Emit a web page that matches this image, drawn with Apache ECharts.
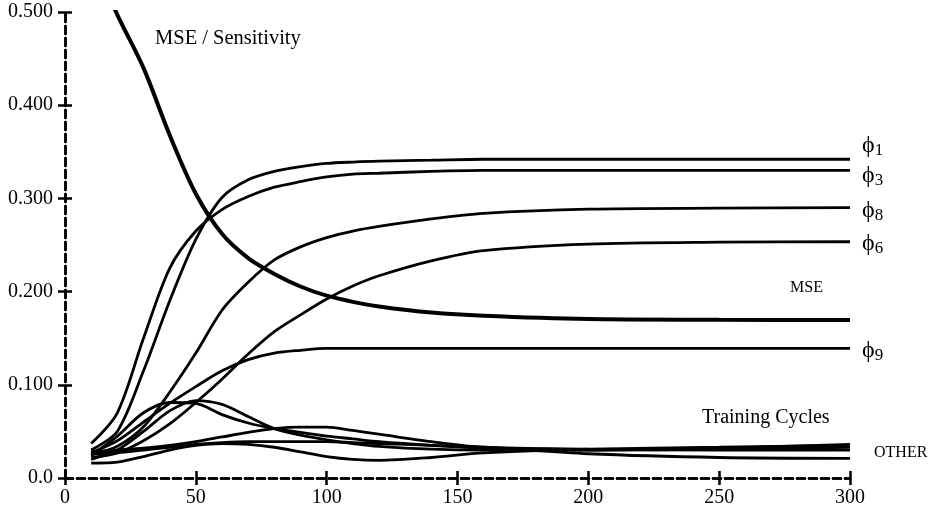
<!DOCTYPE html>
<html>
<head>
<meta charset="utf-8">
<script src="https://cdn.jsdelivr.net/npm/echarts@6/dist/echarts.min.js"></script>
<style>
  html, body { margin: 0; padding: 0; background: #fff; }
  #chart { width: 941px; height: 514px; }
</style>
</head>
<body>
<div id="chart"></div>
<script>
// Training cycles at which each curve was sampled
const cycles = [10, 20, 30, 40, 50, 60, 70, 80, 90, 100, 110, 120, 140, 160, 200, 250, 300];

// Mean squared error
const mse  = [0.560, 0.497, 0.440, 0.368, 0.305, 0.262, 0.236, 0.219, 0.2055, 0.1956, 0.189, 0.184, 0.1775, 0.174, 0.1705, 0.1698, 0.1695];

// Input sensitivities
const phi1 = [0.030, 0.050, 0.115, 0.190, 0.256, 0.301, 0.320, 0.329, 0.334, 0.3375, 0.339, 0.340, 0.341, 0.342, 0.342, 0.342, 0.342];
const phi3 = [0.037, 0.070, 0.150, 0.225, 0.265, 0.288, 0.302, 0.312, 0.318, 0.323, 0.326, 0.327, 0.329, 0.330, 0.330, 0.330, 0.330];
const phi8 = [0.025, 0.034, 0.055, 0.092, 0.134, 0.180, 0.210, 0.234, 0.248, 0.258, 0.265, 0.270, 0.278, 0.284, 0.2885, 0.2895, 0.290];
const phi6 = [0.022, 0.027, 0.040, 0.058, 0.081, 0.106, 0.133, 0.157, 0.175, 0.192, 0.206, 0.217, 0.233, 0.244, 0.251, 0.253, 0.2535];
const phi9 = [0.027, 0.040, 0.060, 0.080, 0.098, 0.115, 0.127, 0.134, 0.137, 0.139, 0.139, 0.139, 0.139, 0.139, 0.139, 0.139, 0.139];

// Remaining ("other") inputs
const otherA = [0.024, 0.045, 0.070, 0.081, 0.080, 0.068, 0.059, 0.053, 0.049, 0.045, 0.042, 0.039, 0.035, 0.032, 0.030, 0.031, 0.033];
const otherB = [0.020, 0.030, 0.050, 0.072, 0.083, 0.079, 0.066, 0.053, 0.046, 0.041, 0.037, 0.034, 0.031, 0.030, 0.030, 0.032, 0.036];
const otherC = [0.028, 0.030, 0.032, 0.035, 0.039, 0.044, 0.049, 0.053, 0.0545, 0.0545, 0.051, 0.047, 0.039, 0.033, 0.031, 0.030, 0.030];
const otherD = [0.016, 0.017, 0.023, 0.030, 0.035, 0.037, 0.036, 0.033, 0.028, 0.023, 0.020, 0.019, 0.022, 0.027, 0.031, 0.033, 0.035];
const otherE = [0.026, 0.027, 0.030, 0.033, 0.036, 0.038, 0.039, 0.039, 0.039, 0.039, 0.038, 0.037, 0.035, 0.033, 0.026, 0.022, 0.021];

// Axis tick labels
const xTickLabels = ['0', '50', '100', '150', '200', '250', '300'];
const yTickLabels = ['0.0', '0.100', '0.200', '0.300', '0.400', '0.500'];

const SERIF = '"Liberation Serif", "DejaVu Serif", serif';
const INK = '#000';

const pairs = (ys) => cycles.map((x, i) => [x, ys[i]]);

function phiLabel(sub, dy) {
  return {
    show: true,
    distance: 0,
    offset: [12, dy],
    formatter: '{p|\u03D5}{s|' + sub + '}',
    rich: {
      p: { fontFamily: SERIF, fontSize: 24, color: INK },
      s: { fontFamily: SERIF, fontSize: 17, color: INK, padding: [10, 0, 0, 0] }
    }
  };
}

function curve(name, ys, width, endLabel) {
  const s = {
    name: name,
    type: 'line',
    data: pairs(ys),
    xAxisIndex: 0,
    yAxisIndex: 0,
    showSymbol: false,
    smooth: 0.3,
    lineStyle: { color: INK, width: width },
    silent: true,
    animation: false
  };
  if (endLabel) s.endLabel = endLabel;
  return s;
}

const dashed = { show: true, lineStyle: { color: INK, width: 2.5, type: [8, 4] } };
const tick = (inside) => ({ show: true, inside: inside, length: 7, lineStyle: { color: INK, width: 2.5 } });

function xAx(position, inside, labels) {
  return {
    type: 'value', position: position, min: 0, max: 300, interval: 50,
    axisLine: inside ? { show: false } : dashed,
    axisTick: tick(inside),
    splitLine: { show: false },
    axisLabel: labels ? {
      show: true, fontFamily: SERIF, fontSize: 20, color: INK, margin: 10,
      formatter: (v) => xTickLabels[Math.round(v / 50)]
    } : { show: false }
  };
}

function yAx(position, inside, labels) {
  return {
    type: 'value', position: position, min: 0, max: 0.5, interval: 0.1,
    axisLine: inside ? { show: false } : dashed,
    axisTick: tick(inside),
    splitLine: { show: false },
    axisLabel: labels ? {
      show: true, fontFamily: SERIF, fontSize: 20, color: INK, margin: 12,
      formatter: (v) => yTickLabels[Math.round(v * 10)]
    } : { show: false }
  };
}

const chart = echarts.init(document.getElementById('chart'), null, { renderer: 'canvas' });

chart.setOption({
  backgroundColor: '#fff',
  animation: false,
  grid: { left: 65, right: 91, top: 12, bottom: 36, containLabel: false },
  xAxis: [
    xAx('bottom', false, true),
    xAx('bottom', true, false),
    xAx('top', false, false),
    xAx('top', true, false)
  ],
  yAxis: [
    yAx('left', false, true),
    yAx('left', true, false),
    yAx('right', false, false),
    yAx('right', true, false)
  ],
  graphic: [
    { type: 'text', left: 155, top: 28, style: { text: 'MSE / Sensitivity', font: '20.5px ' + SERIF, fill: INK } },
    { type: 'text', left: 702, top: 408, style: { text: 'Training Cycles', font: '20px ' + SERIF, fill: INK } },
    { type: 'text', left: 790, top: 280, style: { text: 'MSE', font: '16px ' + SERIF, fill: INK } },
    { type: 'text', left: 874, top: 445, style: { text: 'OTHER', font: '16px ' + SERIF, fill: INK } }
  ],
  series: [
    curve('other A', otherA, 2.8),
    curve('other B', otherB, 2.8),
    curve('other C', otherC, 2.8),
    curve('other D', otherD, 2.8),
    curve('other E', otherE, 2.8),
    curve('phi9', phi9, 2.8, phiLabel('9', 2)),
    curve('phi6', phi6, 2.8, phiLabel('6', 2)),
    curve('phi8', phi8, 2.8, phiLabel('8', 3)),
    curve('phi3', phi3, 2.8, phiLabel('3', 5)),
    curve('phi1', phi1, 2.8, phiLabel('1', -14)),
    curve('MSE', mse, 4)
  ]
});
</script>
</body>
</html>
